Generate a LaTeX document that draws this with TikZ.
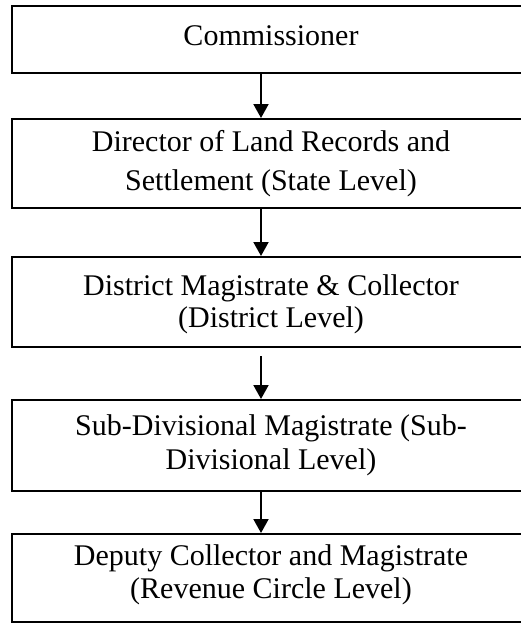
\documentclass[tikz,border=0pt]{standalone}
\usepackage{fontspec}
\setmainfont{Liberation Serif}
\usetikzlibrary{arrows.meta}
\tikzset{
  box/.style={draw, line width=2pt, rectangle, inner sep=0pt, minimum width=518pt},
  txt/.style={align=center, inner sep=0pt, font=\fontsize{30}{34}\selectfont},
  arr/.style={line width=2pt, -{Triangle[length=14pt,width=15pt]}}
}
\begin{document}
\begin{tikzpicture}[x=1pt,y=-1pt]
\useasboundingbox (0,0) rectangle (520,624);
\node[box, minimum height=67pt] (b1) at (271,39.5) {};
\node[box, minimum height=89pt] (b2) at (271,163.5) {};
\node[box, minimum height=90pt] (b3) at (271,302) {};
\node[box, minimum height=91pt] (b4) at (271,445.5) {};
\node[box, minimum height=88pt] (b5) at (271,578) {};
\node[txt] (t1) at (271,36) {Commissioner};
\node[txt, font=\fontsize{30}{39}\selectfont] (t2) at (271,164) {Director of Land Records and\\Settlement (State Level)};
\node[txt, font=\fontsize{30}{32}\selectfont] (t3) at (271,304) {District Magistrate \& Collector\\(District Level)};
\node[txt] (t4) at (271,445) {Sub-Divisional Magistrate (Sub-\\Divisional Level)};
\node[txt, font=\fontsize{30}{33}\selectfont] (t5) at (271,575) {Deputy Collector and Magistrate\\(Revenue Circle Level)};
\coordinate (ax) at (261,0);
\draw[arr] (b1.south -| ax) -- (b2.north -| ax);
\draw[arr] (b2.south -| ax) -- (b3.north -| ax);
\draw[arr] ([yshift=-8pt]b3.south -| ax) -- (b4.north -| ax);
\draw[arr] (b4.south -| ax) -- (b5.north -| ax);
\end{tikzpicture}
\end{document}
